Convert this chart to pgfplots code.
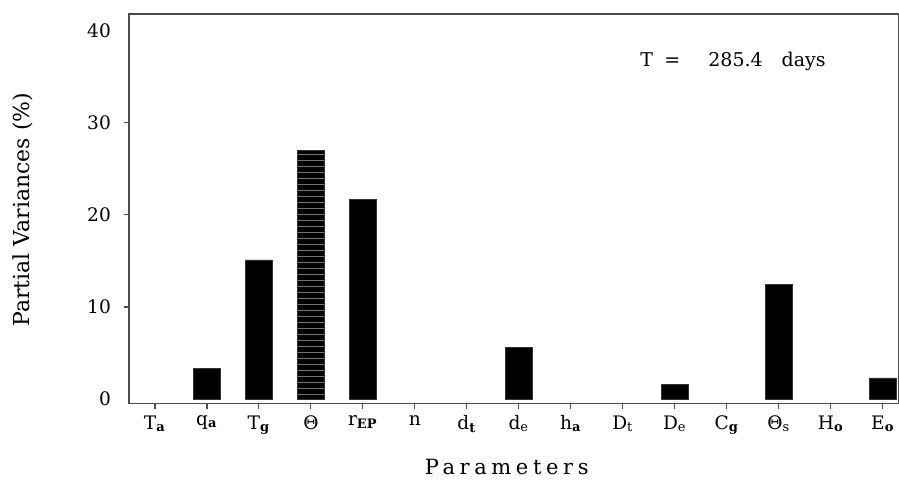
\documentclass[border=0pt]{standalone}
\usepackage{fontspec}
\setmainfont{DejaVu Serif}
\newfontfamily\spaced[LetterSpace=22]{DejaVu Serif}
\usepackage{pgfplots}
\pgfplotsset{compat=1.18}
\usetikzlibrary{patterns}
\begin{document}
\begin{tikzpicture}
\useasboundingbox (-64.5pt,-38pt) rectangle (385.3pt,202pt);
\begin{axis}[
 at={(0,0)}, anchor=south west,
 scale only axis, width=385pt, height=195pt,
 xmin=0.5, xmax=15.3, ymin=-0.5, ymax=41.8,
 xtick={1,...,15},
 xticklabels={T\textsubscript{\textbf{a}}, q\textsubscript{\textbf{a}}, T\textsubscript{\textbf{g}}, Θ, r\textsubscript{\textbf{EP}}, n, d\textsubscript{\textbf{t}}, d\textsubscript{e}, h\textsubscript{\textbf{a}}, D\textsubscript{\textsc{t}}, D\textsubscript{e}, C\textsubscript{\textbf{g}}, Θ\textsubscript{s}, H\textsubscript{\textbf{o}}, E\textsubscript{\textbf{o}}},
 ytick={10,20,30},
 yticklabels={10,20,30},
 extra y ticks={0,40},
 extra y tick labels={0,40},
 extra y tick style={major tick length=0pt, yticklabel style={xshift=-2.5pt}},
 tick align=outside, tick pos=left,
 major tick length=2.5pt,
 /pgf/number format/assume math mode=true,
 tick label style={font=\fontsize{9.3}{10}\selectfont},
 yticklabel style={xshift=-3pt},
 xticklabel style={yshift=0pt},
 axis line style={black!70, line width=0.7pt},
 tick style={black!70, line width=0.6pt},
 ybar, bar width=0.52, bar shift=0pt,
]
\addplot[fill=black, draw=black!80] coordinates {(2,3.3) (3,15.1) (5,21.7) (8,5.65) (11,1.6) (13,12.4) (15,2.3)};
\addplot[fill=black, draw=black!80, postaction={pattern=horizontal lines, pattern color=black!55}] coordinates {(4,27.0)};
\node[anchor=west, font=\fontsize{9.5}{11}\selectfont] at (axis cs:10.2,36.7) {T\; =\quad\, 285.4\quad days};
\end{axis}
\node[rotate=90, font=\fontsize{11}{13}\selectfont] at (-53pt,97pt) {Partial Variances (\%)};
\node[font=\fontsize{10.5}{12}\selectfont\spaced] at (189pt,-31.5pt) {Parameters};
\end{tikzpicture}
\end{document}
